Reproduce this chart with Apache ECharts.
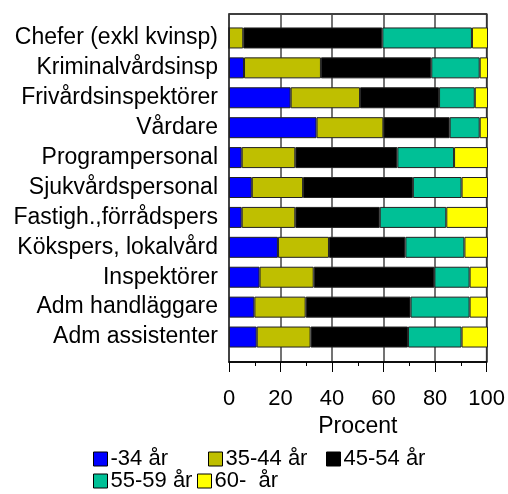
<!DOCTYPE html>
<html>
<head>
<meta charset="utf-8">
<script src="https://cdn.jsdelivr.net/npm/echarts@6/dist/echarts.min.js"></script>
<style>
  html, body { margin: 0; padding: 0; background: #fff; }
  #chart { width: 508px; height: 494px; }
</style>
</head>
<body>
<div id="chart"></div>
<script>
// personalgrupper, uppifrån och ned
var categories = ['Chefer (exkl kvinsp)', 'Kriminalvårdsinsp', 'Frivårdsinspektörer', 'Vårdare',
  'Programpersonal', 'Sjukvårdspersonal', 'Fastigh.,förrådspers', 'Kökspers, lokalvård',
  'Inspektörer', 'Adm handläggare', 'Adm assistenter'];

var ageNames = ['-34 år', '35-44 år', '45-54 år', '55-59 år', '60-  år'];

// procent per åldersgrupp
var age34 = [0, 5.8, 23.8, 33.8, 4.9, 8.8, 4.9, 18.9, 11.8, 9.8, 10.7];
var age35_44 = [5.5, 29.7, 26.8, 25.8, 20.7, 19.8, 20.7, 19.7, 20.9, 19.8, 20.8];
var age45_54 = [53.7, 42.6, 30.5, 25.6, 39.4, 42.4, 32.6, 29.5, 46.6, 40.5, 37.6];
var age55_59 = [34.6, 18.7, 13.8, 11.6, 21.9, 18.8, 25.7, 22.8, 13.6, 22.8, 20.7];
var age60 = [6.2, 3.2, 5.1, 3.2, 13.1, 10.2, 16.1, 9.1, 7.1, 7.1, 10.2];

var xTicks = { min: 0, max: 100, interval: 20 };

var colors = ['#0000ff', '#bfbf00', '#000000', '#00c096', '#ffff00'];
var seriesData = [age34, age35_44, age45_54, age55_59, age60];

var font = 'Liberation Sans, Arial, sans-serif';
var fs = 23;
var chart = echarts.init(document.getElementById('chart'));

var series = seriesData.map(function (d, i) {
  return {
    name: ageNames[i],
    type: 'bar',
    stack: 'total',
    xAxisIndex: 1,
    yAxisIndex: 1,
    barWidth: 21,
    data: d,
    itemStyle: { color: colors[i], borderColor: '#222', borderWidth: 1 }
  };
});

// one legend per item, placed like the original
var legendPos = [[93, 448], [208, 448], [326, 448], [93, 470], [197, 470]];
var legends = ageNames.map(function (n, i) {
  return {
    data: [n],
    left: legendPos[i][0],
    top: legendPos[i][1],
    padding: 0,
    icon: 'rect',
    itemWidth: 14,
    itemHeight: 14,
    selectedMode: false,
    itemStyle: { borderColor: '#000', borderWidth: 1 },
    textStyle: { fontFamily: font, fontSize: 22, color: '#000', padding: [0, 0, 0, -2] }
  };
});

chart.setOption({
  animation: false,
  textStyle: { fontFamily: font },
  legend: legends,
  grid: [
    { left: 229, width: 259, top: 14, height: 348, show: true, borderColor: '#000', borderWidth: 1.5, backgroundColor: '#fff' },
    { left: 229, width: 259, top: 23, height: 329 }
  ],
  xAxis: [
    {
      gridIndex: 0,
      type: 'value',
      min: xTicks.min, max: xTicks.max, interval: xTicks.interval,
      name: 'Procent',
      nameLocation: 'middle',
      nameGap: 49,
      nameTextStyle: { fontFamily: font, fontSize: fs, color: '#000' },
      axisLine: { show: true, lineStyle: { color: '#000', width: 1.5 } },
      axisTick: { show: true, length: 10, lineStyle: { color: '#000' } },
      minorTick: { show: true, splitNumber: 2, length: 4, lineStyle: { color: '#000' } },
      splitLine: { show: true, lineStyle: { color: '#444', width: 1.5 } },
      axisLabel: { fontFamily: font, fontSize: 22, color: '#000', margin: 26 }
    },
    {
      gridIndex: 1,
      type: 'value',
      min: xTicks.min, max: xTicks.max,
      show: false
    }
  ],
  yAxis: [
    { gridIndex: 0, type: 'value', show: false },
    {
      gridIndex: 1,
      type: 'category',
      inverse: true,
      data: categories,
      axisLine: { show: false },
      axisTick: { show: false },
      splitLine: { show: false },
      axisLabel: { fontFamily: font, fontSize: fs, color: '#000', margin: 11 }
    }
  ],
  series: series
});
</script>
</body>
</html>
